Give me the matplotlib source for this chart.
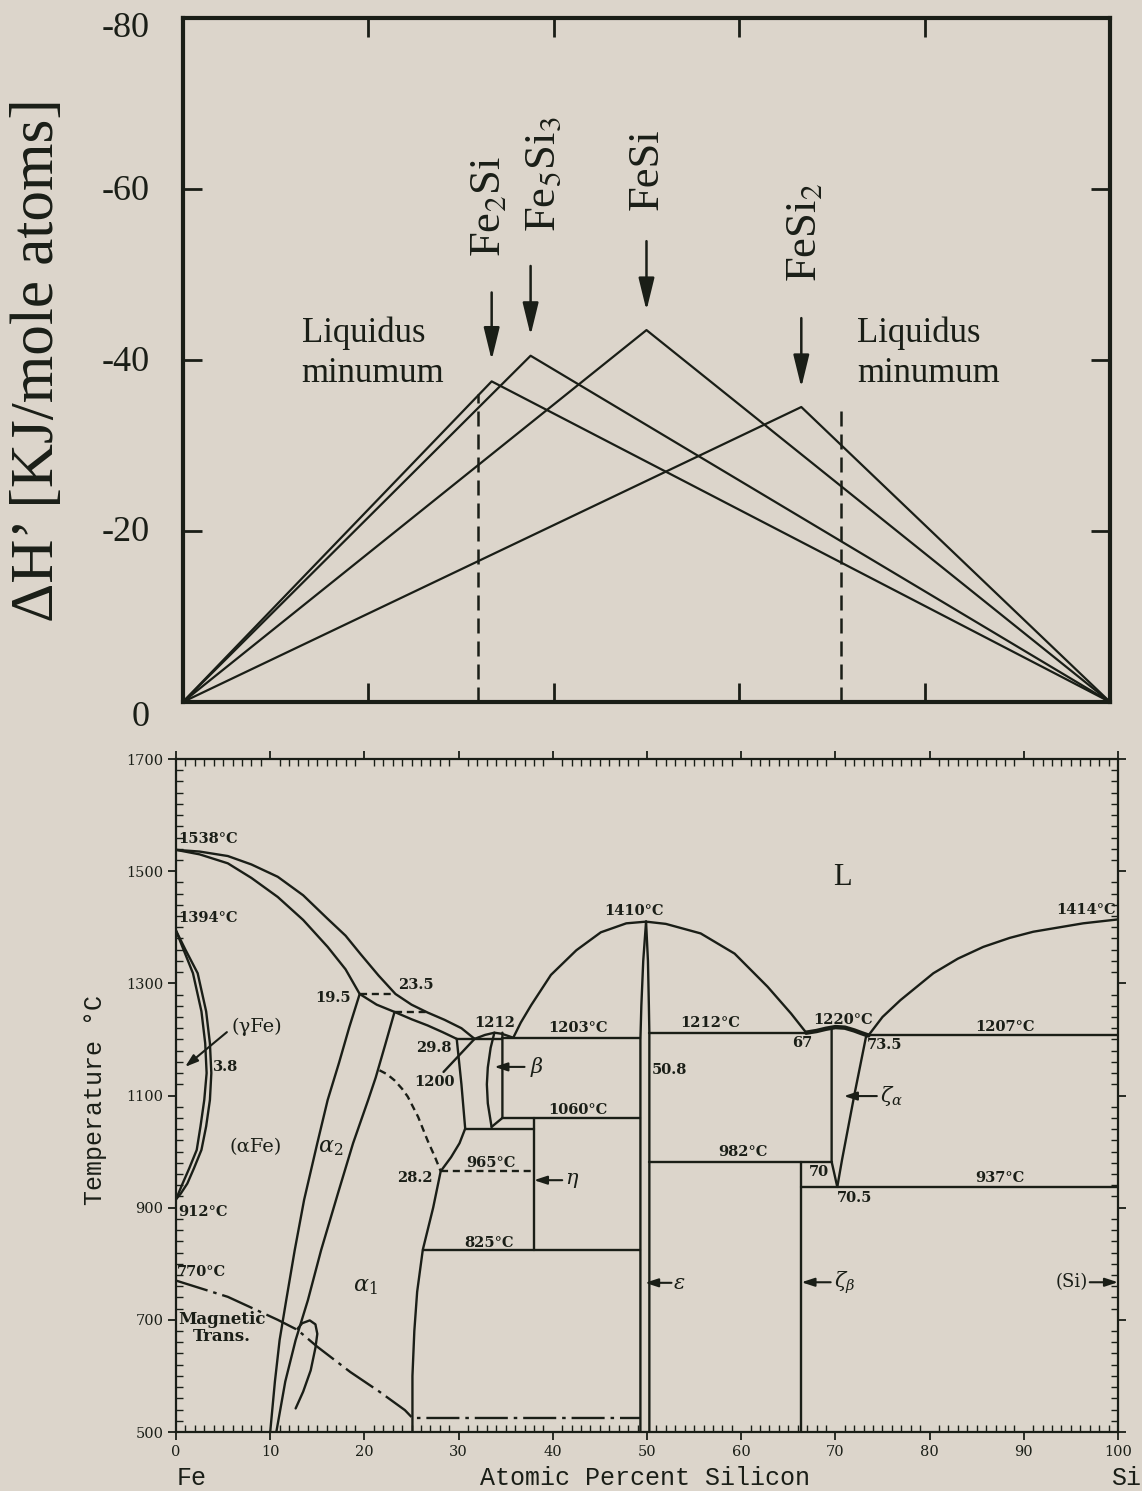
import matplotlib
matplotlib.use('Agg')
import matplotlib.pyplot as plt
from matplotlib.ticker import MultipleLocator
from matplotlib.transforms import blended_transform_factory, offset_copy

BG = '#dcd5cb'
INK = '#1a1e17'

# ---------------------------------------------------------------------------
# upper panel : enthalpy of formation of the Fe-Si compounds
# ---------------------------------------------------------------------------
compounds = ['Fe$_2$Si', 'Fe$_5$Si$_3$', 'FeSi', 'FeSi$_2$']
compound_si = [33.3, 37.5, 50.0, 66.7]
compound_dh = [-37.5, -40.5, -43.5, -34.5]
arrow_tail = [-47.9, -51.0, -53.9, -44.9]
arrow_head = [-40.0, -42.9, -45.8, -36.8]
label_x = [33.0, 38.9, 50.0, 67.1]
label_start = [-52.0, -55.0, -57.5, -49.1]

liq_min_si = [31.8, 71.0]
liq_min_dh = [-36.0, -35.0]
liq_text_si = [12.8, 72.7]
liq_text_dh = [-37.4, -37.4]   # baseline of the lower line

dh_ticks = [0, -20, -40, -60, -80]
dh_label_drop = [16, 2, 2, 2, 10]   # px
si_ticks_upper = [20, 40, 60, 80]

# ---------------------------------------------------------------------------
# lower panel : Fe-Si phase diagram, points are (at.% Si, T in C)
# ---------------------------------------------------------------------------
temp_ticks = [500, 700, 900, 1100, 1300, 1500, 1700]

liquidus_fe = [(0, 1538), (2.5, 1535), (5.5, 1527), (8.0, 1512), (10.8, 1490),
               (13.5, 1457), (16.1, 1415), (18.0, 1385), (19.6, 1352),
               (21.5, 1314), (23.3, 1281), (25.0, 1262), (26.7, 1248),
               (28.5, 1235), (30.3, 1220), (31.7, 1201)]
solidus_alpha = [(0, 1538), (2.5, 1530), (5.5, 1514), (8.0, 1488), (10.8, 1454),
                 (13.5, 1413), (16.1, 1365), (18.0, 1325), (19.5, 1281),
                 (21.3, 1262), (23.2, 1249), (25.0, 1236), (26.7, 1225),
                 (28.3, 1213), (29.8, 1201)]
gamma_outer = [(0, 1394), (1.0, 1360), (2.3, 1318), (3.2, 1250), (3.6, 1193),
               (3.75, 1140), (3.6, 1092), (3.2, 1045), (2.7, 1003),
               (1.9, 970), (1.2, 943), (0.5, 925), (0, 915)]
gamma_inner = [(0, 1394), (0.8, 1360), (1.8, 1318), (2.7, 1250), (3.1, 1193),
               (3.25, 1140), (3.0, 1092), (2.6, 1045), (2.2, 1003),
               (1.4, 970), (0.7, 943), (0.25, 925), (0, 915)]
alpha2_left = [(19.5, 1281), (18.4, 1222), (17.3, 1158), (16.1, 1092),
               (15.0, 1015), (13.6, 914), (12.6, 824), (11.7, 735),
               (11.0, 664), (10.5, 590), (10.0, 500)]
alpha2_right = [(23.2, 1249), (22.2, 1190), (21.2, 1132), (20.4, 1092),
                (18.8, 1015), (17.2, 926), (15.4, 824), (14.0, 735),
                (12.7, 664), (11.6, 590), (10.65, 500)]
alpha2_hook = [(12.9, 684), (13.4, 694), (14.2, 699), (14.8, 692), (15.0, 675),
               (14.8, 650), (14.3, 610), (13.5, 572), (12.7, 542)]
alpha1_edge = [(29.8, 1201), (30.3, 1120), (30.7, 1041), (30.1, 1015),
               (29.2, 990), (28.1, 965), (27.3, 900), (26.2, 825),
               (25.6, 750), (25.3, 680), (25.1, 600), (25.1, 500)]
order_dashed = [(21.6, 1145), (22.4, 1138), (23.2, 1127), (24.0, 1112),
                (24.6, 1098), (25.7, 1062), (26.7, 1020), (27.5, 990), (28.1, 965)]
fe2si_cap = [(31.7, 1201), (32.8, 1208), (33.8, 1212), (34.6, 1210),
             (35.3, 1206), (35.8, 1203)]
beta_left = [(33.8, 1212), (33.4, 1185), (33.1, 1150), (33.0, 1120),
             (33.1, 1086), (33.5, 1044)]
beta_right = [(34.65, 1212), (34.65, 1060), (33.5, 1044)]
fesi_liq_left = [(35.8, 1203), (36.6, 1230), (37.7, 1261), (39.8, 1315),
                 (42.5, 1359), (45.1, 1391), (47.8, 1407), (49.9, 1410)]
fesi_liq_right = [(49.9, 1410), (52.0, 1406), (55.7, 1389), (59.3, 1353),
                  (62.8, 1294), (65.3, 1246), (66.9, 1212)]
eps_left = [(49.9, 1410), (49.6, 1340), (49.4, 1260), (49.3, 1200), (49.3, 500)]
eps_right = [(49.9, 1410), (50.1, 1340), (50.2, 1260), (50.25, 1212), (50.25, 500)]
fesi2_dome = [(66.9, 1212), (68.0, 1215), (69.0, 1219), (70.0, 1222),
              (71.0, 1221), (72.0, 1216), (72.8, 1211), (73.5, 1207)]
zeta_a_left = [(69.6, 1218), (69.6, 982), (70.2, 937)]
zeta_a_right = [(73.3, 1209), (72.0, 1100), (70.7, 985), (70.2, 937)]
zeta_b = [(66.4, 982), (66.4, 500)]
si_liquidus = [(73.5, 1207), (75.0, 1240), (76.9, 1270), (80.4, 1318),
               (83.0, 1344), (85.7, 1365), (88.5, 1381), (91.0, 1392),
               (96.3, 1407), (100, 1414)]
eta_line = [(38.0, 1060), (38.0, 825)]
isotherms = [  # (x_from, x_to, T)
    (29.8, 34.65, 1200), (34.65, 49.3, 1203), (50.25, 66.9, 1212),
    (73.5, 100, 1207), (34.65, 49.3, 1060), (30.7, 38.0, 1041),
    (26.2, 49.3, 825), (50.25, 69.6, 982), (66.4, 100, 937)]
dashed_isotherms = [(19.5, 23.3, 1281), (23.2, 26.7, 1249), (28.1, 38.0, 965)]
magnetic = [(0, 770), (5.5, 741), (10.8, 700), (12.9, 682), (15.0, 652),
            (18.5, 607), (21.5, 573), (24.3, 539), (25.1, 525), (49.3, 525)]
eutectic_leader = [(28.4, 1142), (31.7, 1201)]

# point labels: (x, T, text, horizontal alignment)
point_labels = [
    (0.2, 1558, '1538°C', 'left'), (0.2, 1416, '1394°C', 'left'),
    (0.2, 893, '912°C', 'left'), (0.1, 786, '770°C', 'left'),
    (18.6, 1274, '19.5', 'right'), (23.6, 1297, '23.5', 'left'),
    (29.2, 1185, '29.8', 'right'), (29.6, 1124, '1200', 'right'),
    (33.8, 1229, '1212', 'center'), (42.7, 1220, '1203°C', 'center'),
    (50.5, 1145, '50.8', 'left'), (42.7, 1074, '1060°C', 'center'),
    (33.4, 979, '965°C', 'center'), (27.2, 953, '28.2', 'right'),
    (33.2, 837, '825°C', 'center'), (48.6, 1429, '1410°C', 'center'),
    (56.7, 1229, '1212°C', 'center'), (66.5, 1193, '67', 'center'),
    (70.8, 1234, '1220°C', 'center'), (75.2, 1190, '73.5', 'center'),
    (99.8, 1430, '1414°C', 'right'), (88.0, 1222, '1207°C', 'center'),
    (60.2, 999, '982°C', 'center'), (68.2, 963, '70', 'center'),
    (72.0, 918, '70.5', 'center'), (87.5, 953, '937°C', 'center'),
    (3.9, 1151, '3.8', 'left')]

# phase names with pointer arrows: (text, text x, T, arrow tail x, arrow tip x)
phase_pointers = [
    (r'$\beta$', 37.6, 1151, 37.0, 33.8),
    (r'$\eta$', 41.3, 949, 41.0, 38.0),
    (r'$\varepsilon$', 52.8, 766, 52.6, 49.8),
    (r'$\zeta_\beta$', 69.8, 767, 69.5, 66.4),
    (r'$\zeta_\alpha$', 74.7, 1099, 74.4, 70.9)]

fig = plt.figure(figsize=(11.42, 14.91), dpi=100, facecolor=BG)

# ---------------- upper panel ----------------
ax1 = fig.add_axes([0.1602, 0.5292, 0.8118, 0.4587])
ax1.set_facecolor('none')
ax1.set_xlim(0, 100)
ax1.set_ylim(0, -80)

for xc, dh in zip(compound_si, compound_dh):
    ax1.plot([0, xc, 100], [0, dh, 0], color=INK, lw=1.6)

for xs, top in zip(liq_min_si, liq_min_dh):
    ax1.plot([xs, xs], [0, top], color=INK, lw=1.8, dashes=(6, 3.2))

for name, xl, y0, xc, tail, head in zip(compounds, label_x, label_start,
                                        compound_si, arrow_tail, arrow_head):
    ax1.annotate('', xy=(xc, head), xytext=(xc, tail),
                 arrowprops=dict(arrowstyle='-|>,head_length=0.9,head_width=0.22',
                                 color=INK, lw=1.8, mutation_scale=22,
                                 shrinkA=0, shrinkB=0))
    ax1.text(xl, y0, name, rotation=90, ha='center', va='bottom',
             fontsize=32, family='Liberation Serif', color=INK,
             math_fontfamily='stix')

for xt, yt in zip(liq_text_si, liq_text_dh):
    ax1.text(xt, yt, 'Liquidus\nminumum', ha='left', va='baseline',
             fontsize=25, family='Liberation Serif', color=INK,
             linespacing=1.3)

ax1.set_xticks(si_ticks_upper)
ax1.set_yticks(dh_ticks[1:-1])
ax1.tick_params(direction='in', length=14, width=2, top=True, right=True,
                labelleft=False, labelbottom=False, color=INK)
for sp in ax1.spines.values():
    sp.set_linewidth(3)
    sp.set_color(INK)

tick_tf = blended_transform_factory(ax1.transAxes, ax1.transData)
for v, drop in zip(dh_ticks, dh_label_drop):
    tf = offset_copy(tick_tf, fig=fig, y=-drop, units='dots')
    ax1.text(-0.036, v, f'{v}', transform=tf, ha='right', va='center',
             fontsize=26, family='Liberation Serif', color=INK)

fig.text(38 / 1142, 1 - 360 / 1491, 'ΔH’ [KJ/mole atoms]', rotation=90,
         ha='center', va='center', fontsize=44, family='Liberation Serif',
         color=INK)

# ---------------- lower panel ----------------
ax2 = fig.add_axes([0.15412, 0.03957, 0.82486, 0.45137])
ax2.set_facecolor('none')
ax2.set_xlim(0, 100)
ax2.set_ylim(500, 1700)

solid = dict(color=INK, lw=1.7, solid_joinstyle='round', solid_capstyle='round')


def curve(pts, **kw):
    xs, ts = zip(*pts)
    ax2.plot(xs, ts, **kw)


for pts in [liquidus_fe, solidus_alpha, gamma_outer, gamma_inner, alpha2_left,
            alpha2_right, alpha2_hook, alpha1_edge, fe2si_cap, beta_left,
            beta_right, fesi_liq_left, fesi_liq_right, eps_left, eps_right,
            zeta_a_left, zeta_a_right, zeta_b, si_liquidus, eta_line,
            eutectic_leader]:
    curve(pts, **solid)
curve(fesi2_dome, color=INK, lw=3.2, solid_capstyle='round')

for x0, x1, t in isotherms:
    ax2.plot([x0, x1], [t, t], **solid)
for x0, x1, t in dashed_isotherms:
    ax2.plot([x0, x1], [t, t], color=INK, lw=1.7, dashes=(3, 2))
curve(order_dashed, color=INK, lw=1.7, dashes=(3, 2))
curve(magnetic, color=INK, lw=1.7, dashes=(14, 2.5, 1.5, 2.5))

lab = dict(family='DejaVu Serif', fontweight='bold', fontsize=10.5, color=INK,
           va='center')
for x, t, s, ha in point_labels:
    ax2.text(x, t, s, ha=ha, **lab)

small_arrow = dict(arrowstyle='-|>,head_length=0.55,head_width=0.18',
                   color=INK, lw=1.5, mutation_scale=14, shrinkA=0, shrinkB=0)
for s, xt, t, tail, tip in phase_pointers:
    ax2.annotate('', xy=(tip, t), xytext=(tail, t), arrowprops=small_arrow)
    ax2.text(xt, t, s, ha='left', va='center', fontsize=15, color=INK,
             math_fontfamily='dejavuserif')

ax2.annotate('', xy=(100, 767), xytext=(97.0, 767), arrowprops=small_arrow)
ax2.text(96.8, 767, '(Si)', ha='right', va='center', fontsize=13,
         family='DejaVu Serif', color=INK)
ax2.annotate('', xy=(0.96, 1151), xytext=(5.4, 1213), arrowprops=small_arrow)
ax2.text(5.9, 1222, '(γFe)', ha='left', va='center', fontsize=14,
         family='DejaVu Serif', color=INK)
ax2.text(8.5, 1008, '(αFe)', ha='center', va='center', fontsize=14,
         family='DejaVu Serif', color=INK)
ax2.text(16.4, 1006, r'$\alpha_2$', ha='center', va='center', fontsize=16,
         color=INK, math_fontfamily='dejavuserif')
ax2.text(20.1, 759, r'$\alpha_1$', ha='center', va='center', fontsize=16,
         color=INK, math_fontfamily='dejavuserif')
ax2.text(4.9, 686, 'Magnetic\nTrans.', ha='center', va='center', fontsize=12,
         family='DejaVu Serif', fontweight='bold', color=INK, linespacing=1.0)
ax2.text(70.7, 1489, 'L', ha='center', va='center', fontsize=22,
         family='Liberation Serif', color=INK)

ax2.set_yticks(temp_ticks)
ax2.xaxis.set_major_locator(MultipleLocator(10))
ax2.xaxis.set_minor_locator(MultipleLocator(1))
ax2.yaxis.set_minor_locator(MultipleLocator(20))
ax2.tick_params(which='major', direction='out', length=6, width=1.3,
                top=True, right=True, color=INK, labelcolor=INK,
                labelsize=10.5, pad=3)
ax2.tick_params(which='minor', direction='in', length=5, width=1.0,
                top=True, right=True, color=INK)
for lbl in ax2.get_xticklabels() + ax2.get_yticklabels():
    lbl.set_family('DejaVu Serif')
for sp in ax2.spines.values():
    sp.set_linewidth(1.6)
    sp.set_color(INK)

mono = dict(family='Liberation Mono', fontsize=18, color=INK, va='center')
fig.text(0.5645, 1 - 1478 / 1491, 'Atomic Percent Silicon', ha='center', **mono)
fig.text(177 / 1142, 1 - 1478 / 1491, 'Fe', ha='left', **mono)
fig.text(1141 / 1142, 1 - 1478 / 1491, 'Si', ha='right', **mono)
fig.text(95 / 1142, 1 - 1100 / 1491, 'Temperature °C', rotation=90,
         ha='center', **mono)

fig.savefig('out.png', dpi=100, facecolor=BG)
